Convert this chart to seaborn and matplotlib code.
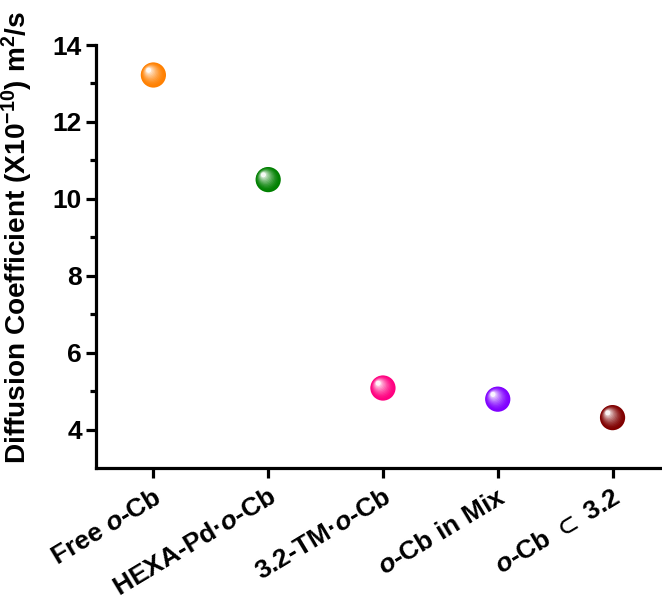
import numpy as np
import pandas as pd
import matplotlib
matplotlib.use("Agg")
import matplotlib.pyplot as plt
import matplotlib.transforms as mtransforms
from matplotlib.colors import to_rgb
import seaborn as sns

# Samples and their diffusion coefficients (x10^-10 m^2/s)
samples = ["Free $o$-Cb", "HEXA-Pd·$o$-Cb", "3.2-TM·$o$-Cb", "$o$-Cb in Mix", "$o$-Cb $\\subset$ 3.2"]
diffusion = [13.22, 10.50, 5.08, 4.79, 4.31]
colors = ["#FF8000", "#008000", "#FF0080", "#8000FF", "#800000"]
yticks = [4, 6, 8, 10, 12, 14]

sns.set_theme(style="ticks")
plt.rcParams["font.family"] = ["Liberation Sans", "DejaVu Sans"]
plt.rcParams["font.weight"] = "bold"
plt.rcParams["text.color"] = "black"
plt.rcParams["axes.labelcolor"] = "black"
plt.rcParams["xtick.color"] = "black"
plt.rcParams["ytick.color"] = "black"
plt.rcParams["mathtext.fontset"] = "custom"
plt.rcParams["mathtext.rm"] = "Liberation Sans:bold"
plt.rcParams["mathtext.bf"] = "Liberation Sans:bold"
plt.rcParams["mathtext.it"] = "Liberation Sans:italic:bold"
plt.rcParams["mathtext.sf"] = "Liberation Sans:bold"
plt.rcParams["mathtext.fallback"] = "stixsans"

df = pd.DataFrame({"sample": samples, "D": diffusion, "pos": np.arange(len(samples))})

fig = plt.figure(figsize=(6.62, 6.01), dpi=100)
ax = fig.add_axes([0.145, 0.2213, 0.867, 0.7038])

# base spheres
sns.scatterplot(data=df, x="pos", y="D", hue="sample", palette=colors, s=330,
                edgecolor="none", legend=False, ax=ax, zorder=3)

# glossy highlight layers drifting toward the upper left
n_layers = 12
for k in range(1, n_layers):
    t = k / (n_layers - 1)
    diam = 18.2 * (1 - 0.8 * t)
    off = mtransforms.offset_copy(ax.transData, fig=fig, x=-3.4 * t, y=3.4 * t, units="points")
    mix = 0.97 * t ** 1.5
    layer_colors = [tuple((1 - mix) * np.array(to_rgb(c)) + mix) for c in colors]
    ax.scatter(df["pos"], df["D"], s=diam ** 2, c=layer_colors, edgecolors="none",
               transform=off, zorder=3 + k * 0.01, alpha=0.55 if k < n_layers - 1 else 0.95)

ax.set_xlim(-0.5, 4.5)
ax.set_ylim(3, 14)
ax.set_yticks(yticks)
ax.set_yticks([5, 7, 9, 11, 13], minor=True)
ax.set_yticklabels([str(v) for v in yticks], fontsize=19, fontweight="bold")
ax.set_xticks(df["pos"])
ax.set_xticklabels(samples, fontsize=19, fontweight="bold", rotation=31,
                   ha="right", rotation_mode="anchor")

ax.set_xlabel("")
ax.set_ylabel("Diffusion Coefficient (X10$^{-10}$) m$^{2}$/s", fontsize=20.2,
              fontweight="bold")
ax.yaxis.set_label_coords(-0.106, 0.545)

for side in ["top", "right"]:
    ax.spines[side].set_visible(False)
for side in ["left", "bottom"]:
    ax.spines[side].set_linewidth(2.3)
    ax.spines[side].set_color("black")
ax.tick_params(axis="both", which="major", length=7, width=2.3, color="black", pad=3)
ax.tick_params(axis="y", which="minor", length=4.5, width=2.3, color="black")
ax.tick_params(axis="x", which="major", pad=5)

fig.savefig("out.png", dpi=100, facecolor="white")
